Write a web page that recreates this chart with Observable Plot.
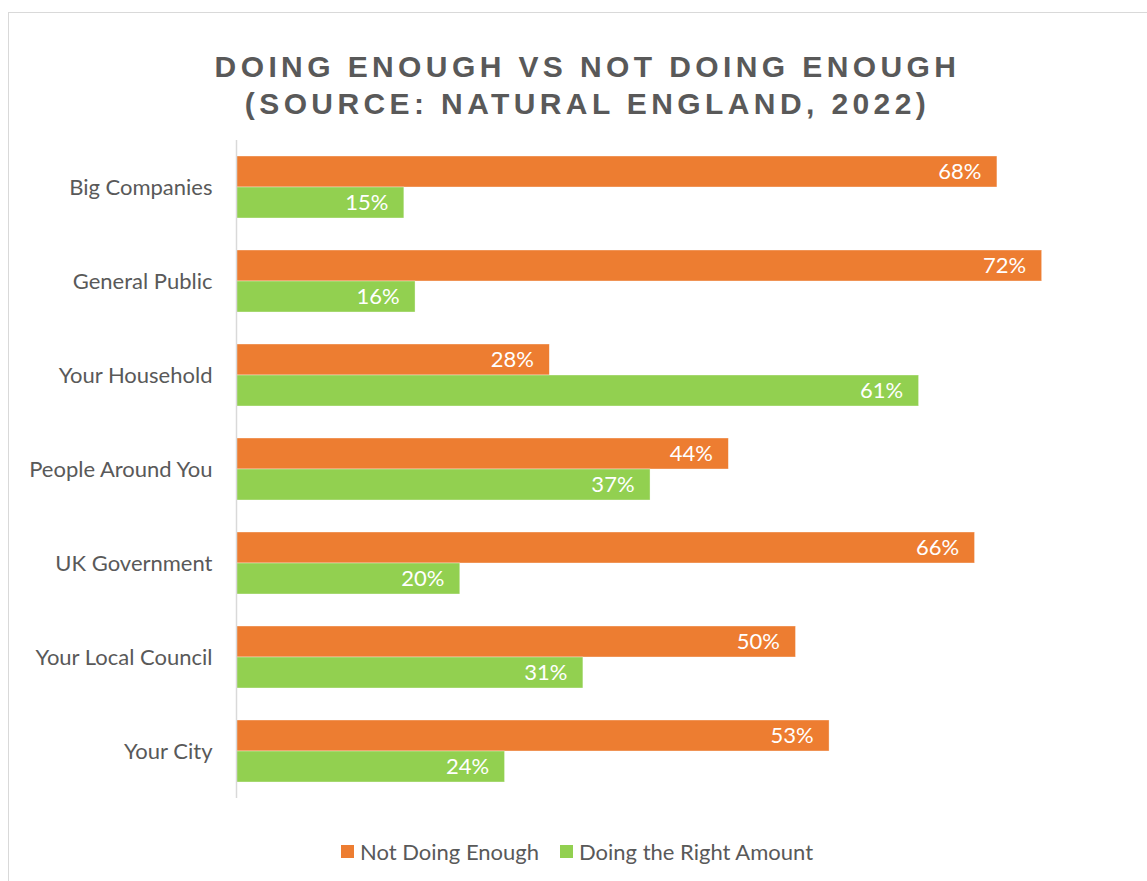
<!DOCTYPE html>
<html><head><meta charset="utf-8">
<script src="https://cdn.jsdelivr.net/npm/d3@7"></script>
<script src="https://cdn.jsdelivr.net/npm/@observablehq/plot@0.6"></script>
<style>
html,body{margin:0;padding:0;overflow:hidden;width:1147px;height:881px;background:#fff;}
#frame{position:absolute;left:8px;top:12px;width:1200px;height:1000px;border:1px solid #d9d9d9;box-sizing:border-box}
#title{position:absolute;left:0;width:1175px;top:48px;text-align:center;font:bold 30px "Liberation Sans",Arial,sans-serif;letter-spacing:4.4px;color:#595959;line-height:37px}
#chart{position:absolute;left:0;top:0}
.lg{position:absolute;font:22px Lato,sans-serif;color:#595959;line-height:22px;top:841px}
.sw{position:absolute;width:13px;height:13px;top:845px}
</style></head>
<body>
<div id="frame"></div>
<div id="title">DOING ENOUGH VS NOT DOING ENOUGH<br>(SOURCE: NATURAL ENGLAND, 2022)</div>
<div id="chart"></div>
<div id="legend"></div>
<script>
const categories = ["Big Companies","General Public","Your Household","People Around You","UK Government","Your Local Council","Your City"];
const series = ["Not Doing Enough","Doing the Right Amount"];
const notDoingEnough = [68,72,28,44,66,50,53];
const doingRightAmount = [15,16,61,37,20,31,24];
const colors = ["#ED7D31","#92D050"];

const data = [];
categories.forEach((c,i)=>{
  data.push({cat:c, series:series[0], value:notDoingEnough[i]});
  data.push({cat:c, series:series[1], value:doingRightAmount[i]});
});

const pxPer = 11.19;
const plot = Plot.plot({
  width:1147, height:881,
  marginTop:139, marginBottom:82, marginLeft:236, marginRight:0,
  style:{fontFamily:"Lato, sans-serif", fontSize:"22px", background:"transparent", overflow:"visible"},
  x:{domain:[0,80], range:[236, 236+80*pxPer], axis:null},
  y:{domain:series, paddingInner:0, paddingOuter:0.5, axis:null},
  fy:{domain:categories, padding:0, axis:null},
  color:{domain:series, range:colors},
  marks:[
    Plot.barX(data,{fy:"cat", y:"series", x:"value", fill:"series", stroke:"#fff", strokeWidth:0.6, strokeOpacity:0.6}),
    Plot.text(data,{fy:"cat", y:"series", x:"value", text:d=>d.value+"%", textAnchor:"end", dx:-16, fill:"white", fontSize:22}),
    Plot.ruleX([0],{stroke:"#d9d9d9", strokeWidth:1.5}),
    Plot.axisFy({anchor:"left", tickSize:0, tickPadding:24, fontSize:22, fill:"#595959", label:null})
  ]
});
document.getElementById("chart").appendChild(plot);

const lg = document.getElementById("legend");
const pos = [[341,360],[560,579]];
series.forEach((s,i)=>{
  const sw = document.createElement("div"); sw.className="sw"; sw.style.left=pos[i][0]+"px"; sw.style.background=colors[i]; lg.appendChild(sw);
  const t = document.createElement("div"); t.className="lg"; t.style.left=pos[i][1]+"px"; t.textContent=s; lg.appendChild(t);
});
</script>
</body></html>
